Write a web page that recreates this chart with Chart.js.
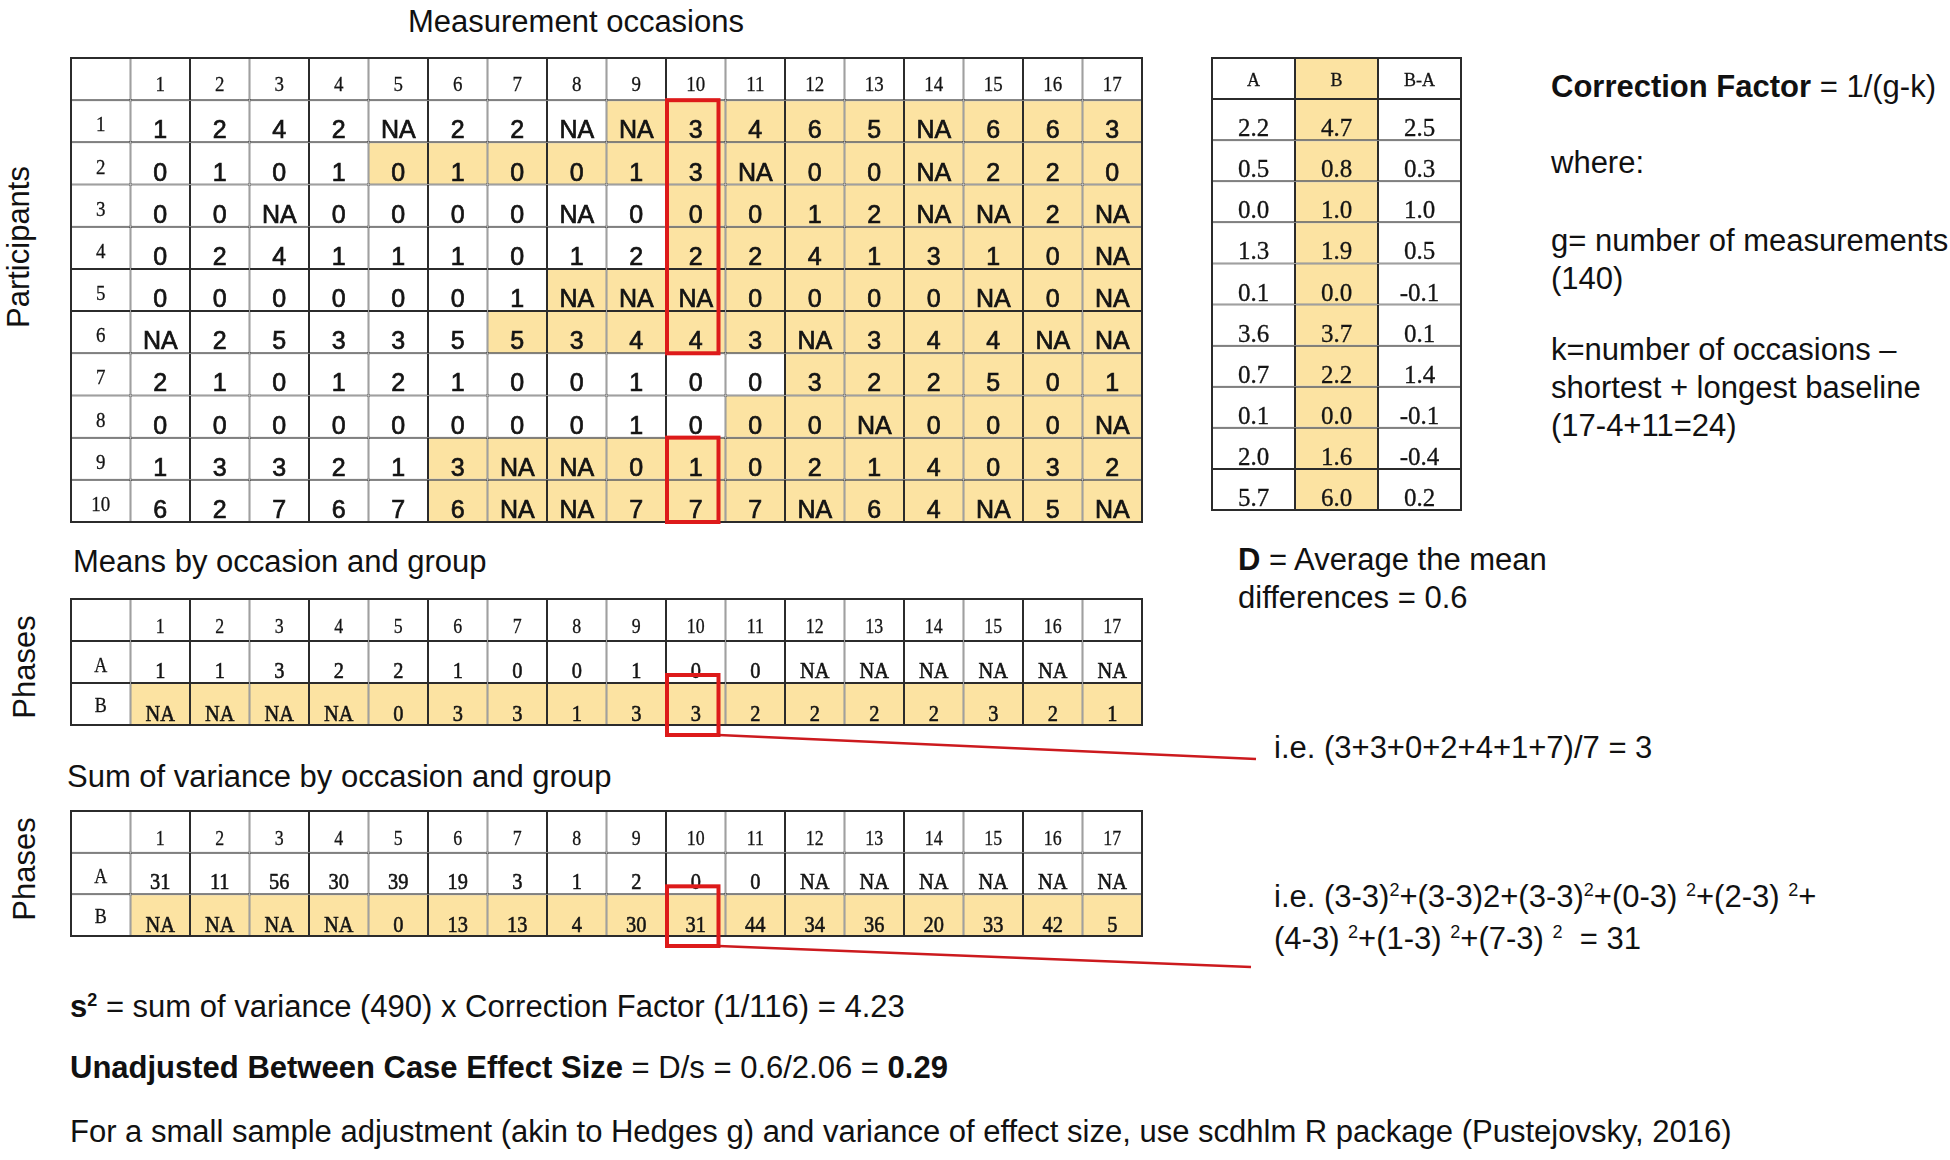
<!DOCTYPE html>
<html><head><meta charset="utf-8">
<script src="https://cdn.jsdelivr.net/npm/chart.js@4.4.0/dist/chart.umd.min.js"></script>
<style>
html,body{margin:0;padding:0;background:#fff;width:1950px;height:1160px;overflow:hidden;}
.t{position:absolute;font-family:"Liberation Sans",Arial,sans-serif;font-size:31px;color:#111;white-space:nowrap;line-height:38px;}
.rot{transform:translate(-50%,-50%) rotate(-90deg);line-height:1;}
.sup{font-size:18px;position:relative;top:-11px;}
canvas.tbl{position:absolute;}
#overlay{position:absolute;left:0;top:0;pointer-events:none;z-index:5;}
b{font-weight:bold;}
</style></head><body>

<div class="t" style="left:408px;top:3px">Measurement occasions</div>
<div class="t rot" style="left:18px;top:247px">Participants</div>
<div class="t" style="left:73px;top:543px">Means by occasion and group</div>
<div class="t rot" style="left:24px;top:667px">Phases</div>
<div class="t" style="left:67px;top:758px">Sum of variance by occasion and group</div>
<div class="t rot" style="left:24px;top:869px">Phases</div>

<div class="t" style="left:1551px;top:68px"><b>Correction Factor</b> = 1/(g-k)</div>
<div class="t" style="left:1551px;top:144px">where:</div>
<div class="t" style="left:1551px;top:222px">g= number of measurements<br>(140)</div>
<div class="t" style="left:1551px;top:331px">k=number of occasions –<br>shortest + longest baseline<br>(17-4+11=24)</div>
<div class="t" style="left:1238px;top:541px"><b>D</b> = Average the mean<br>differences = 0.6</div>

<div class="t" id="note1" style="left:1274px;top:729px">i.e. (3+3+0+2+4+1+7)/7 = 3</div>
<div class="t" id="note2" style="left:1274px;top:878px">i.e. (3-3)<span class="sup">2</span>+(3-3)2+(3-3)<span class="sup">2</span>+(0-3) <span class="sup">2</span>+(2-3) <span class="sup">2</span>+<br>(4-3) <span class="sup">2</span>+(1-3) <span class="sup">2</span>+(7-3) <span class="sup">2</span> &nbsp;= 31</div>

<div class="t" style="left:70px;top:988px"><b>s<span class="sup">2</span></b> = sum of variance (490) x Correction Factor (1/116) = 4.23</div>
<div class="t" style="left:70px;top:1049px"><b>Unadjusted Between Case Effect Size</b> = D/s = 0.6/2.06 = <b>0.29</b></div>
<div class="t" style="left:70px;top:1113px">For a small sample adjustment (akin to Hedges g) and variance of effect size, use scdhlm R package (Pustejovsky, 2016)</div>

<canvas class="tbl" id="mainTable"></canvas>
<canvas class="tbl" id="personTable"></canvas>
<canvas class="tbl" id="meansTable"></canvas>
<canvas class="tbl" id="varTable"></canvas>
<canvas id="overlay" width="1950" height="1160"></canvas>

<script>
// ---------------- DATA ----------------
const occasions = ['1','2','3','4','5','6','7','8','9','10','11','12','13','14','15','16','17'];
const participants = ['1','2','3','4','5','6','7','8','9','10'];
const phases = ['A','B'];
// number of baseline (phase A) occasions for each participant
const baselineLength = [8, 4, 9, 9, 7, 6, 11, 10, 5, 5];
const scores = [
  [1,2,4,2,'NA',2,2,'NA','NA',3,4,6,5,'NA',6,6,3],
  [0,1,0,1,0,1,0,0,1,3,'NA',0,0,'NA',2,2,0],
  [0,0,'NA',0,0,0,0,'NA',0,0,0,1,2,'NA','NA',2,'NA'],
  [0,2,4,1,1,1,0,1,2,2,2,4,1,3,1,0,'NA'],
  [0,0,0,0,0,0,1,'NA','NA','NA',0,0,0,0,'NA',0,'NA'],
  ['NA',2,5,3,3,5,5,3,4,4,3,'NA',3,4,4,'NA','NA'],
  [2,1,0,1,2,1,0,0,1,0,0,3,2,2,5,0,1],
  [0,0,0,0,0,0,0,0,1,0,0,0,'NA',0,0,0,'NA'],
  [1,3,3,2,1,3,'NA','NA',0,1,0,2,1,4,0,3,2],
  [6,2,7,6,7,6,'NA','NA',7,7,7,'NA',6,4,'NA',5,'NA']
];
const personCols = ['A','B','B-A'];
const personMeanA = [2.2,0.5,0.0,1.3,0.1,3.6,0.7,0.1,2.0,5.7];
const personMeanB = [4.7,0.8,1.0,1.9,0.0,3.7,2.2,0.0,1.6,6.0];
const personDiff  = [2.5,0.3,1.0,0.5,-0.1,0.1,1.4,-0.1,-0.4,0.2];
const meansA = [1,1,3,2,2,1,0,0,1,0,0,'NA','NA','NA','NA','NA','NA'];
const meansB = ['NA','NA','NA','NA',0,3,3,1,3,3,2,2,2,2,3,2,1];
const varA = [31,11,56,30,39,19,3,1,2,0,0,'NA','NA','NA','NA','NA','NA'];
const varB = ['NA','NA','NA','NA',0,13,13,4,30,31,44,34,36,20,33,42,5];
const highlightOccasion = '10';
const highlightParticipants = [['1','6'],['9','10']];

// ---------------- STYLE ----------------
const YELLOW = '#FCE3A2', WHITE = '#ffffff', LINE = '#2b2b2b', RED = '#DD1A1A';
const SERIF = "'Liberation Serif','DejaVu Serif',serif";
const SANS = "'Liberation Sans',Arial,sans-serif";
const P = 14;

const cellTextPlugin = {
  id: 'cellText',
  afterDatasetsDraw(chart) {
    const ctx = chart.ctx;
    chart.data.datasets.forEach((ds, di) => {
      const meta = chart.getDatasetMeta(di);
      meta.data.forEach((el, ri) => {
        const c = ds.cells[ri];
        if (!c || c.t === '' || c.t == null) return;
        const cx = (el.x + el.base) / 2;
        const by = el.y + el.height / 2 - c.pad;
        ctx.save();
        ctx.font = c.font; ctx.fillStyle = '#141414'; ctx.strokeStyle = '#141414';
        ctx.textAlign = 'center'; ctx.textBaseline = 'alphabetic';
        ctx.translate(cx, by); ctx.scale(c.sx || 1, 1);
        ctx.fillText(c.t, 0, 0);
        if (c.stroke) { ctx.lineWidth = c.stroke; ctx.strokeText(c.t, 0, 0); }
        ctx.restore();
      });
    });
  }
};
const framePlugin = {
  id: 'frame',
  afterDatasetsDraw(chart) {
    const a = chart.chartArea, ctx = chart.ctx;
    ctx.save(); ctx.strokeStyle = LINE; ctx.lineWidth = 2;
    ctx.strokeRect(a.left, a.top, a.right - a.left, a.bottom - a.top);
    ctx.restore();
  }
};
function boxRect(chart, b) {
  const meta = chart.getDatasetMeta(b.col);
  const e1 = meta.data[b.rowFrom], e2 = meta.data[b.rowTo];
  return {
    x0: Math.min(e1.base, e1.x) + b.inL, x1: Math.max(e1.base, e1.x) - b.inR,
    y0: e1.y - e1.height / 2 - b.outT, y1: e2.y + e2.height / 2 + b.outB
  };
}
const redBoxPlugin = {
  id: 'redBoxes',
  afterDraw(chart, args, opts) {
    const ctx = chart.ctx;
    (opts.boxes || []).forEach(b => {
      const r = boxRect(chart, b);
      ctx.save(); ctx.strokeStyle = RED; ctx.lineWidth = 4;
      ctx.strokeRect(r.x0, r.y0, r.x1 - r.x0, r.y1 - r.y0);
      ctx.restore();
    });
  }
};

function tableChart(id, left, top, width, height, rowKeys, grid, boxes) {
  const nCols = grid[0].length;
  const cv = document.getElementById(id);
  cv.width = width + 2 * P; cv.height = height + 2 * P;
  cv.style.left = (left - P) + 'px'; cv.style.top = (top - P) + 'px';
  const datasets = [];
  for (let c = 0; c < nCols; c++) {
    datasets.push({
      data: grid.map(() => [c, c + 1]),
      backgroundColor: grid.map(r => r[c].fill || WHITE),
      cells: grid.map(r => r[c])
    });
  }
  return new Chart(cv, {
    type: 'bar',
    data: { labels: rowKeys, datasets },
    options: {
      indexAxis: 'y', responsive: false, animation: false, devicePixelRatio: 1,
      layout: { padding: P },
      datasets: { bar: { grouped: false, barPercentage: 1, categoryPercentage: 1, borderWidth: 1, borderColor: LINE, borderSkipped: false, inflateAmount: 0 } },
      scales: {
        x: { type: 'linear', min: 0, max: nCols, display: false },
        y: { type: 'category', display: false, offset: true }
      },
      events: [],
      plugins: { legend: { display: false }, tooltip: { enabled: false }, redBoxes: { boxes: boxes || [] } }
    },
    plugins: [cellTextPlugin, framePlugin, redBoxPlugin]
  });
}

const HDR = '21px ' + SERIF;
const VAL = '25px ' + SANS;
const fmt = v => String(v);

// ---- main table ----
const mainGrid = [[{ t: '' }].concat(occasions.map(o => ({ t: o, font: HDR, pad: 9, sx: 0.9, stroke: 0.3 })))];
participants.forEach((p, i) => {
  mainGrid.push([{ t: p, font: HDR, pad: 11, sx: 0.9, stroke: 0.3 }].concat(
    scores[i].map((v, j) => ({ t: fmt(v), font: VAL, pad: 4, stroke: 0.7, fill: j >= baselineLength[i] ? YELLOW : WHITE }))));
});
const occCol = occasions.indexOf(highlightOccasion) + 1;
const mainBoxes = highlightParticipants.map(([a, b]) => ({
  col: occCol, rowFrom: participants.indexOf(a) + 1, rowTo: participants.indexOf(b) + 1, inL: 1, inR: 7, outT: 0, outB: 0
}));
const mainChart = tableChart('mainTable', 71, 58, 1071, 464, ['occasion'].concat(participants), mainGrid, mainBoxes);

// ---- per-person table ----
const PV = '25px ' + SERIF;
const personGrid = [personCols.map((c, i) => ({ t: c, font: '18px ' + SERIF, pad: 13, stroke: 0.3, fill: i === 1 ? YELLOW : WHITE }))];
participants.forEach((p, i) => {
  personGrid.push([
    { t: personMeanA[i].toFixed(1), font: PV, pad: 4, stroke: 0.3 },
    { t: personMeanB[i].toFixed(1), font: PV, pad: 4, stroke: 0.3, fill: YELLOW },
    { t: personDiff[i].toFixed(1), font: PV, pad: 4, stroke: 0.3 }
  ]);
});
tableChart('personTable', 1212, 58, 249, 452, ['hdr'].concat(participants), personGrid, []);

// ---- means / variance tables ----
const SV = '24px ' + SERIF;
function phaseGrid(aVals, bVals) {
  return [
    [{ t: '' }].concat(occasions.map(o => ({ t: o, font: HDR, pad: 8, sx: 0.85, stroke: 0.3 }))),
    [{ t: phases[0], font: '20px ' + SERIF, pad: 11, sx: 0.9, stroke: 0.3 }].concat(aVals.map(v => ({ t: fmt(v), font: SV, pad: 5, sx: 0.85, stroke: 0.6 }))),
    [{ t: phases[1], font: '20px ' + SERIF, pad: 13, sx: 0.9, stroke: 0.3 }].concat(bVals.map(v => ({ t: fmt(v), font: SV, pad: 4, sx: 0.85, stroke: 0.6, fill: YELLOW })))
  ];
}
const phaseBox = [{ col: occCol, rowFrom: 2, rowTo: 2, inL: 1, inR: 7, outT: 8, outB: 10 }];
const meansChart = tableChart('meansTable', 71, 599, 1071, 126, ['occasion'].concat(phases), phaseGrid(meansA, meansB), phaseBox);
const varChart = tableChart('varTable', 71, 811, 1071, 125, ['occasion'].concat(phases), phaseGrid(varA, varB), phaseBox);

// ---- connectors from highlighted cells to the worked examples ----
function connector(chart, canvasId, noteId, dx, dy) {
  const r = boxRect(chart, phaseBox[0]);
  const cv = document.getElementById(canvasId);
  const sx = cv.offsetLeft + r.x1, sy = cv.offsetTop + r.y1;
  const n = document.getElementById(noteId);
  const ex = n.offsetLeft + dx, ey = n.offsetTop + dy;
  const ctx = document.getElementById('overlay').getContext('2d');
  ctx.save(); ctx.strokeStyle = '#CC1A1E'; ctx.lineWidth = 2.5;
  ctx.beginPath(); ctx.moveTo(sx, sy); ctx.lineTo(ex, ey); ctx.stroke(); ctx.restore();
}
connector(meansChart, 'meansTable', 'note1', -18, 30);
connector(varChart, 'varTable', 'note2', -23, 89);
</script>
</body></html>
